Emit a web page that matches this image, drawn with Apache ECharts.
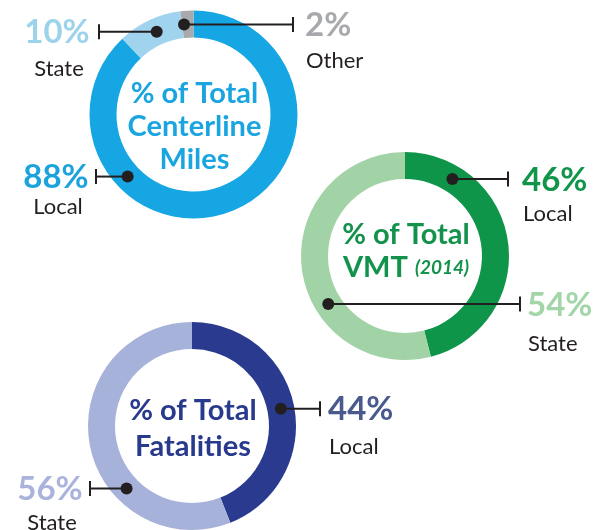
<!DOCTYPE html>
<html>
<head>
<meta charset="utf-8">
<script src="https://cdn.jsdelivr.net/npm/echarts@6/dist/echarts.min.js"></script>
<style>
  html, body { margin: 0; padding: 0; background: #fff; }
  #chart { width: 604px; height: 530px; }
</style>
</head>
<body>
<div id="chart"></div>
<script>
// data
const milesNames = ['Local', 'State', 'Other'];
const milesValues = [88, 10, 2];
const vmtNames = ['Local', 'State'];
const vmtValues = [46, 54];
const fatalNames = ['Local', 'State'];
const fatalValues = [44, 56];

const FONT = 'Lato, "Open Sans", sans-serif';
const R_IN = 77, R_OUT = 104;
const R_MID = (R_IN + R_OUT) / 2;

const charts = [
  {
    center: [193.5, 114.5],
    names: milesNames, values: milesValues,
    colors: ['#16a6e3', '#9fd3ee', '#a7a9ac'],
    pctColors: ['#1ca3de', '#9cd2ec', '#a7a9ac'],
    title: ['% of Total', 'Centerline', 'Miles'],
    titleY: 94, lineGap: 33, titleColor: '#1ba5e0',
    // where the leader dots sit (deg clockwise from top) and where the labels go
    notes: [
      { idx: 0, angle: 226.7, tickX: 96, labelX: 56, align: 'center', nameDy: 29 },
      { idx: 1, angle: 336, tickX: 99, labelX: 57, align: 'center', nameDy: 36 },
      { idx: 2, angle: 354, tickX: 293, labelX: 305, align: 'left', nameDy: 35 }
    ]
  },
  {
    center: [405, 256],
    names: vmtNames, values: vmtValues,
    colors: ['#0e9549', '#a2d3a6'],
    pctColors: ['#11954a', '#a3d5a8'],
    title: ['% of Total', '{b|VMT} {i|(2014)}'],
    titleY: 235, lineGap: 33, titleColor: '#13924b',
    notes: [
      { idx: 0, angle: 31.6, tickX: 508, labelX: 522, align: 'left', nameDy: 34 },
      { idx: 1, angle: 238, tickX: 520, labelX: 527, align: 'left', nameDy: 39 }
    ]
  },
  {
    center: [192, 426],
    names: fatalNames, values: fatalValues,
    colors: ['#2a3b8f', '#a7b2da'],
    pctColors: ['#4a5a8e', '#a9b3db'],
    title: ['% of Total', 'Fatalities'],
    titleY: 411, lineGap: 36, titleColor: '#283a8c',
    notes: [
      { idx: 0, angle: 79, tickX: 320, labelX: 328, align: 'left', nameDy: 37 },
      { idx: 1, angle: 226.3, tickX: 90, labelX: 50, align: 'center', nameDy: 33 }
    ]
  }
];

function onRing(c, deg) {
  const a = deg * Math.PI / 180;
  return [c[0] + R_MID * Math.sin(a), c[1] - R_MID * Math.cos(a)];
}

const series = charts.map(ch => ({
  type: 'pie',
  center: ch.center,
  radius: [R_IN, R_OUT],
  startAngle: 90,
  clockwise: true,
  silent: true,
  label: { show: false },
  labelLine: { show: false },
  emphasis: { disabled: true },
  itemStyle: { borderWidth: 0 },
  data: ch.names.map((n, i) => ({
    name: n, value: ch.values[i], itemStyle: { color: ch.colors[i] }
  }))
}));

const graphic = [];
charts.forEach(ch => {
  // centre titles
  ch.title.forEach((t, k) => {
    graphic.push({
      type: 'text', z: 10,
      x: ch.center[0] + 1, y: ch.titleY + k * ch.lineGap,
      style: {
        text: t, fill: ch.titleColor,
        font: 'bold 29px ' + FONT,
        align: 'center', verticalAlign: 'middle',
        rich: {
          b: { fontFamily: FONT, fontWeight: 'bold', fontSize: 29, fill: ch.titleColor },
          i: { fontFamily: FONT, fontWeight: 'bold', fontStyle: 'italic', fontSize: 19, fill: ch.titleColor }
        }
      }
    });
  });

  // leader lines + labels
  ch.notes.forEach(nt => {
    const [dx, dy] = onRing(ch.center, nt.angle);
    graphic.push({
      type: 'line', z: 20,
      shape: { x1: dx, y1: dy, x2: nt.tickX, y2: dy },
      style: { stroke: '#231f20', lineWidth: 2 }
    });
    graphic.push({
      type: 'line', z: 20,
      shape: { x1: nt.tickX, y1: dy - 7.5, x2: nt.tickX, y2: dy + 7.5 },
      style: { stroke: '#231f20', lineWidth: 2 }
    });
    graphic.push({
      type: 'circle', z: 21,
      shape: { cx: dx, cy: dy, r: 6 },
      style: { fill: '#231f20' }
    });
    graphic.push({
      type: 'text', z: 20,
      x: nt.labelX, y: dy + 1,
      style: {
        text: ch.values[nt.idx] + '%',
        fill: ch.pctColors[nt.idx],
        font: 'bold 33px ' + FONT,
        align: nt.align, verticalAlign: 'middle'
      }
    });
    graphic.push({
      type: 'text', z: 20,
      x: nt.align === 'center' ? nt.labelX + 2 : nt.labelX + 1, y: dy + 1 + nt.nameDy,
      style: {
        text: ch.names[nt.idx],
        fill: '#231f20',
        font: '22px ' + FONT,
        align: nt.align, verticalAlign: 'middle'
      }
    });
  });
});

const chart = echarts.init(document.getElementById('chart'));
chart.setOption({
  backgroundColor: '#fff',
  animation: false,
  series: series,
  graphic: graphic
});
</script>
</body>
</html>
